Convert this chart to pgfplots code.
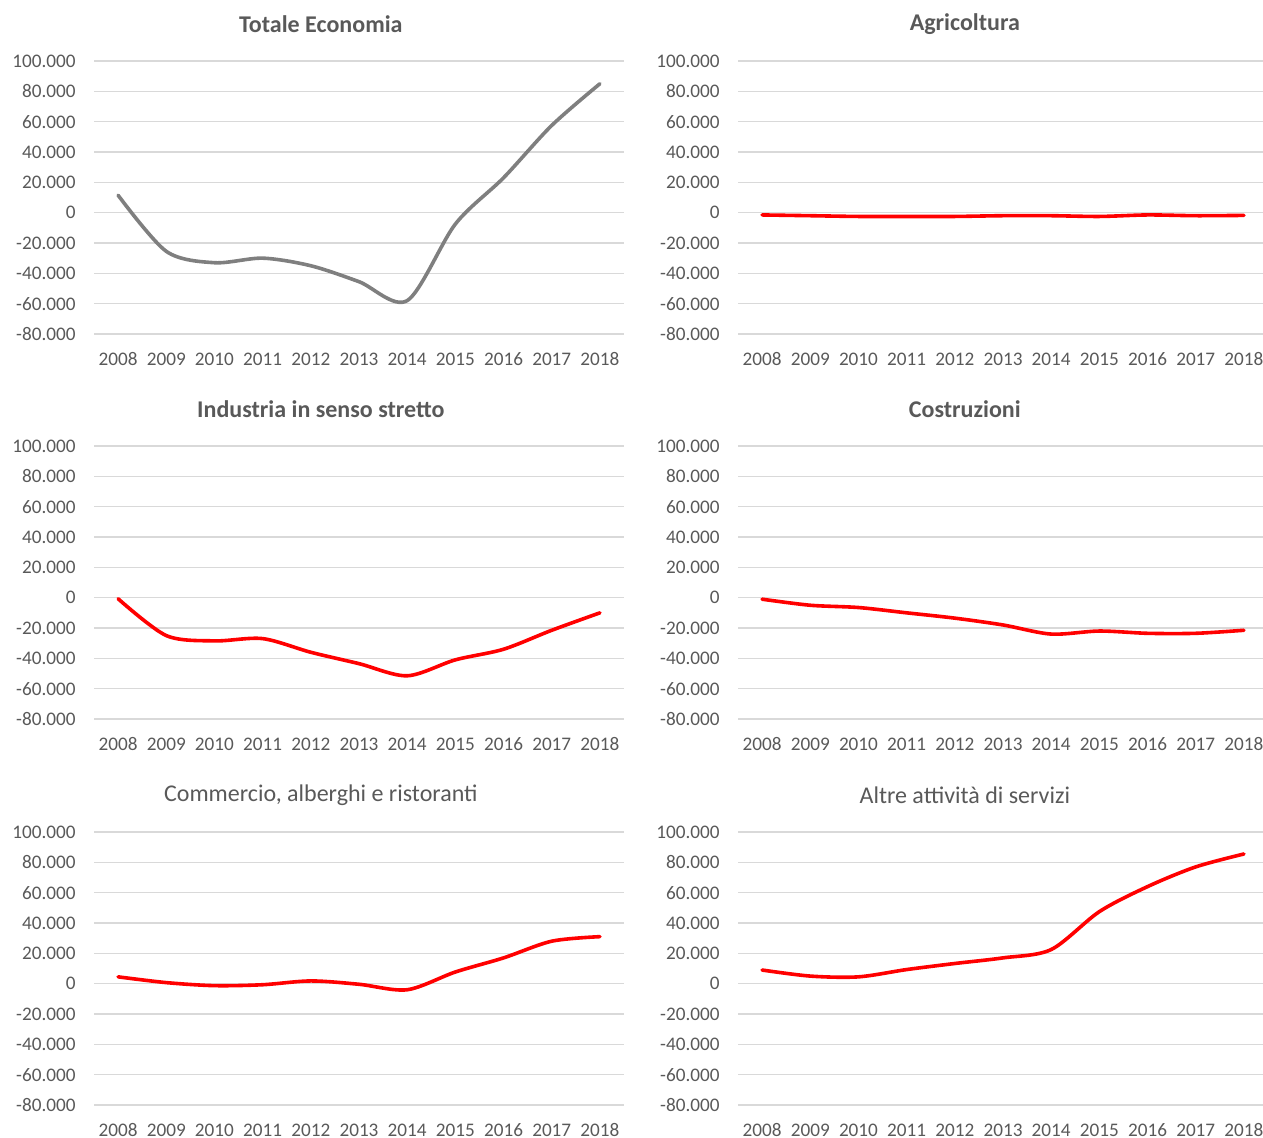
\documentclass[border=0pt]{standalone}
\usepackage{fontspec}
\setmainfont{Carlito}
\usepackage{pgfplots}
\pgfplotsset{compat=1.18}
\definecolor{gridgray}{HTML}{D9D9D9}
\definecolor{labelgray}{HTML}{595959}
\definecolor{seriesgray}{HTML}{7F7F7F}
\definecolor{seriesred}{HTML}{FF0000}

\pgfplotsset{
  panel/.style={
    anchor=south west, scale only axis,
    width=265pt, height=136.5pt,
    xmin=2007.5, xmax=2018.5, ymin=-80000, ymax=100000,
    scaled y ticks=false,
    xtick={2008,2009,2010,2011,2012,2013,2014,2015,2016,2017,2018},
    xticklabels={2008,2009,2010,2011,2012,2013,2014,2015,2016,2017,2018},
    ytick={-80000,-60000,-40000,-20000,0,20000,40000,60000,80000,100000},
    yticklabels={-80.000,-60.000,-40.000,-20.000,0,20.000,40.000,60.000,80.000,100.000},
    ymajorgrids, grid style={gridgray, line width=0.6pt},
    axis line style={draw=none}, major tick length=0pt,
    tick label style={font=\fontsize{9.6}{11}\selectfont, text=labelgray, inner sep=0pt},
    yticklabel style={xshift=-9pt},
    xticklabel style={yshift=-9pt, text height=6.6pt, text depth=0pt},
    title style={at={(0.428,1)}, anchor=center, yshift=12.5pt, text=labelgray},
    clip=false,
  },
  boldtitle/.style={title style={font=\fontsize{12}{14}\selectfont\bfseries}},
  plaintitle/.style={title style={font=\fontsize{12}{14}\selectfont}},
  curve/.style={smooth, line width=1.8pt, line cap=round, line join=round},
}

\begin{document}
\begin{tikzpicture}
\path[use as bounding box] (0pt,0pt) rectangle (631.5pt,-569pt);

% riga 1
\begin{axis}[panel, boldtitle, at={(47pt,-167pt)}, title={Totale Economia}]
  \addplot[curve, seriesgray] coordinates {
    (2008,11500) (2009,-25500) (2010,-33000) (2011,-30000) (2012,-35000)
    (2013,-45500) (2014,-58000) (2015,-7500) (2016,23000) (2017,57500) (2018,85000)};
\end{axis}
\begin{axis}[panel, boldtitle, at={(369pt,-167pt)}, title={Agricoltura}]
  \addplot[curve, seriesred] coordinates {
    (2008,-1500) (2009,-2000) (2010,-2500) (2011,-2500) (2012,-2500)
    (2013,-2000) (2014,-2000) (2015,-2500) (2016,-1500) (2017,-2000) (2018,-1800)};
\end{axis}

% riga 2
\begin{axis}[panel, boldtitle, at={(47pt,-359.5pt)}, title={Industria in senso stretto}]
  \addplot[curve, seriesred] coordinates {
    (2008,-700) (2009,-25000) (2010,-28500) (2011,-27000) (2012,-36000)
    (2013,-43500) (2014,-51500) (2015,-41000) (2016,-34000) (2017,-21500) (2018,-10000)};
\end{axis}
\begin{axis}[panel, boldtitle, at={(369pt,-359.5pt)}, title={Costruzioni}]
  \addplot[curve, seriesred] coordinates {
    (2008,-1000) (2009,-5000) (2010,-6500) (2011,-10000) (2012,-13500)
    (2013,-18000) (2014,-24000) (2015,-22000) (2016,-23500) (2017,-23500) (2018,-21500)};
\end{axis}

% riga 3
\begin{axis}[panel, plaintitle, at={(47pt,-552.5pt)}, title={Commercio, alberghi e ristoranti}]
  \addplot[curve, seriesred] coordinates {
    (2008,4500) (2009,700) (2010,-1300) (2011,-700) (2012,1800)
    (2013,-400) (2014,-4000) (2015,7700) (2016,17000) (2017,28000) (2018,31000)};
\end{axis}
\begin{axis}[panel, plaintitle, at={(369pt,-552.5pt)}, title={Altre attività di servizi}]
  \addplot[curve, seriesred] coordinates {
    (2008,9000) (2009,5000) (2010,4500) (2011,9300) (2012,13300)
    (2013,17000) (2014,22500) (2015,47500) (2016,64000) (2017,77000) (2018,85500)};
\end{axis}
\end{tikzpicture}
\end{document}
